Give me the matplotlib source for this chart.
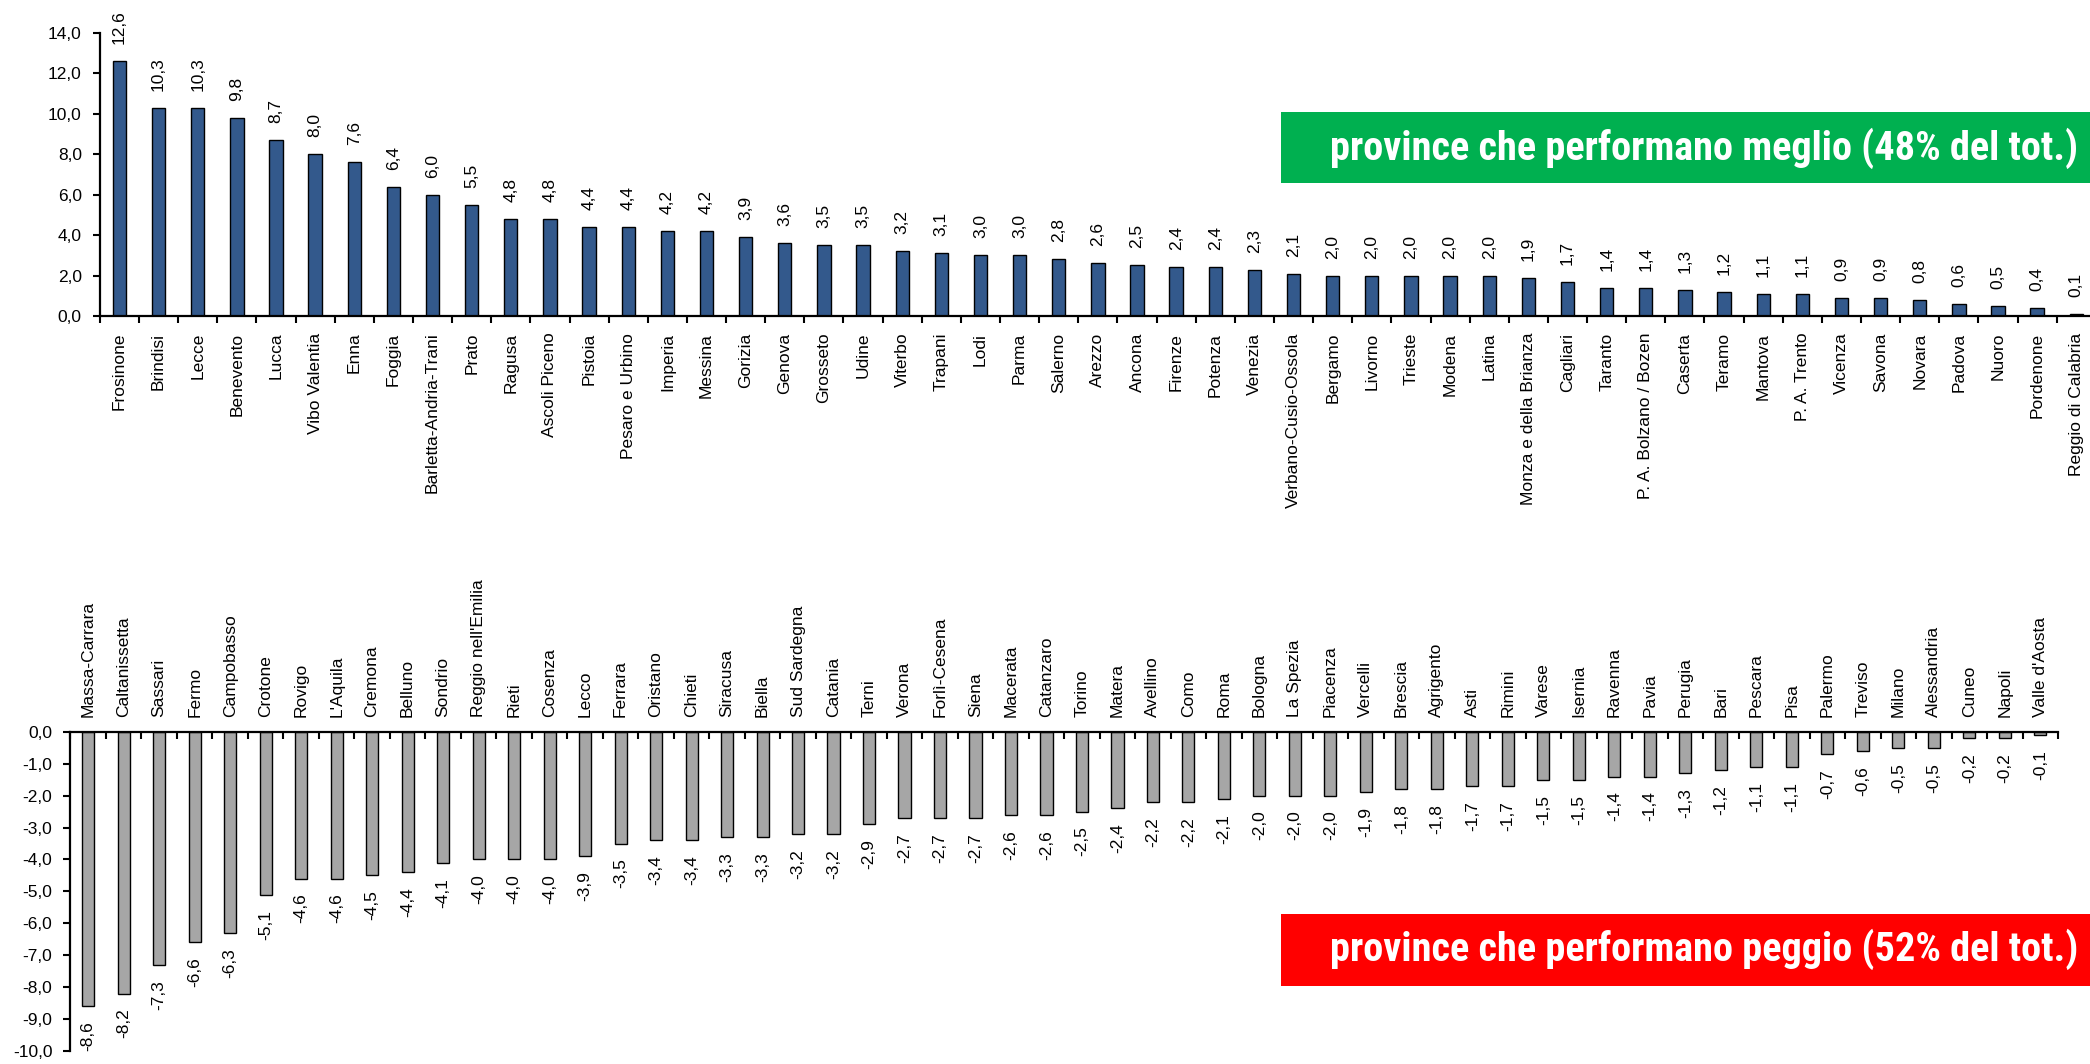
import numpy as np
import matplotlib
matplotlib.use("Agg")
import matplotlib.pyplot as plt
from matplotlib.ticker import FuncFormatter
from matplotlib.patches import Rectangle

# province migliori
top_names = ["Frosinone", "Brindisi", "Lecce", "Benevento", "Lucca", "Vibo Valentia", "Enna",
             "Foggia", "Barletta-Andria-Trani", "Prato", "Ragusa", "Ascoli Piceno", "Pistoia",
             "Pesaro e Urbino", "Imperia", "Messina", "Gorizia", "Genova", "Grosseto", "Udine",
             "Viterbo", "Trapani", "Lodi", "Parma", "Salerno", "Arezzo", "Ancona", "Firenze",
             "Potenza", "Venezia", "Verbano-Cusio-Ossola", "Bergamo", "Livorno", "Trieste",
             "Modena", "Latina", "Monza e della Brianza", "Cagliari", "Taranto",
             "P. A. Bolzano / Bozen", "Caserta", "Teramo", "Mantova", "P. A. Trento", "Vicenza",
             "Savona", "Novara", "Padova", "Nuoro", "Pordenone", "Reggio di Calabria"]
top_values = [12.6, 10.3, 10.3, 9.8, 8.7, 8.0, 7.6, 6.4, 6.0, 5.5, 4.8, 4.8, 4.4, 4.4, 4.2, 4.2,
              3.9, 3.6, 3.5, 3.5, 3.2, 3.1, 3.0, 3.0, 2.8, 2.6, 2.5, 2.4, 2.4, 2.3, 2.1, 2.0, 2.0,
              2.0, 2.0, 2.0, 1.9, 1.7, 1.4, 1.4, 1.3, 1.2, 1.1, 1.1, 0.9, 0.9, 0.8, 0.6, 0.5, 0.4,
              0.1]

# province peggiori
bottom_names = ["Massa-Carrara", "Caltanissetta", "Sassari", "Fermo", "Campobasso", "Crotone",
                "Rovigo", "L'Aquila", "Cremona", "Belluno", "Sondrio", "Reggio nell'Emilia",
                "Rieti", "Cosenza", "Lecco", "Ferrara", "Oristano", "Chieti", "Siracusa", "Biella",
                "Sud Sardegna", "Catania", "Terni", "Verona", "Forlì-Cesena", "Siena", "Macerata",
                "Catanzaro", "Torino", "Matera", "Avellino", "Como", "Roma", "Bologna",
                "La Spezia", "Piacenza", "Vercelli", "Brescia", "Agrigento", "Asti", "Rimini",
                "Varese", "Isernia", "Ravenna", "Pavia", "Perugia", "Bari", "Pescara", "Pisa",
                "Palermo", "Treviso", "Milano", "Alessandria", "Cuneo", "Napoli", "Valle d'Aosta"]
bottom_values = [-8.6, -8.2, -7.3, -6.6, -6.3, -5.1, -4.6, -4.6, -4.5, -4.4, -4.1, -4.0, -4.0,
                 -4.0, -3.9, -3.5, -3.4, -3.4, -3.3, -3.3, -3.2, -3.2, -2.9, -2.7, -2.7, -2.7,
                 -2.6, -2.6, -2.5, -2.4, -2.2, -2.2, -2.1, -2.0, -2.0, -2.0, -1.9, -1.8, -1.8,
                 -1.7, -1.7, -1.5, -1.5, -1.4, -1.4, -1.3, -1.2, -1.1, -1.1, -0.7, -0.6, -0.5,
                 -0.5, -0.2, -0.2, -0.1]

top_title = "province che performano meglio (48% del tot.)"
bottom_title = "province che performano peggio (52% del tot.)"

plt.rcParams['font.family'] = ['Liberation Sans', 'DejaVu Sans']
narrow = ['Roboto Condensed', 'Liberation Sans', 'DejaVu Sans']
FS = 12.5


def fmt(v):
    return f"{v:.1f}".replace('.', ',')


def style_axis(ax, names, x):
    ax.set_xlim(-0.5, len(names) - 0.5)
    ax.set_xticks(x)
    ax.set_xticklabels(names, rotation=90, fontsize=FS)
    ax.set_xticks(np.arange(len(names) + 1) - 0.5, minor=True)
    ax.yaxis.set_major_formatter(FuncFormatter(lambda v, p: fmt(v)))
    ax.tick_params(axis='y', length=5, width=1.5, pad=8, labelsize=FS)
    ax.spines['right'].set_visible(False)


fig = plt.figure(figsize=(20.9, 10.64), dpi=100)

# grafico in alto
ax1 = fig.add_axes([0.0478, 0.703, 0.955, 0.266])
x1 = np.arange(len(top_names))
ax1.bar(x1, top_values, width=0.34, color='#33598C', edgecolor='black', linewidth=1.0)
ax1.set_ylim(0, 14)
ax1.set_yticks(np.arange(0, 15, 2))
style_axis(ax1, top_names, x1)
ax1.tick_params(axis='x', which='major', length=0, pad=12)
ax1.tick_params(axis='x', which='minor', length=5, width=1.5, direction='out')
ax1.spines['top'].set_visible(False)
for s in ['left', 'bottom']:
    ax1.spines[s].set_linewidth(1.6)
for xi, v in zip(x1, top_values):
    ax1.annotate(fmt(v), (xi, v), xytext=(0, 17), textcoords='offset pixels', rotation=90,
                 ha='center', va='bottom', fontsize=FS, annotation_clip=False)

# grafico in basso
ax2 = fig.add_axes([0.0337, 0.0122, 0.951, 0.300])
x2 = np.arange(len(bottom_names))
ax2.bar(x2, bottom_values, width=0.34, color='#A6A6A6', edgecolor='black', linewidth=1.0)
ax2.set_ylim(-10, 0)
ax2.set_yticks(np.arange(-10, 1, 1))
ax2.xaxis.tick_top()
style_axis(ax2, bottom_names, x2)
ax2.tick_params(axis='x', which='major', length=0, pad=11, top=True, bottom=False)
ax2.tick_params(axis='x', which='minor', length=5, width=1.5, direction='in', top=True, bottom=False)
ax2.spines['bottom'].set_visible(False)
for s in ['left', 'top']:
    ax2.spines[s].set_linewidth(1.6)
for xi, v in zip(x2, bottom_values):
    ax2.annotate(fmt(v), (xi, v), xytext=(0, -15), textcoords='offset pixels', rotation=90,
                 ha='center', va='top', fontsize=FS, annotation_clip=False)

# riquadri colorati
fig.patches.append(Rectangle((0.613, 0.828), 0.4, 0.0667, transform=fig.transFigure,
                             facecolor='#00B050', edgecolor='none'))
fig.patches.append(Rectangle((0.613, 0.0735), 0.4, 0.0677, transform=fig.transFigure,
                             facecolor='#FF0000', edgecolor='none'))
t1 = fig.text(0.6365, 0.861, top_title, color='white', fontsize=29, fontweight='bold',
              family=narrow, va='center', ha='left')
t2 = fig.text(0.6365, 0.1073, bottom_title, color='white', fontsize=29, fontweight='bold',
              family=narrow, va='center', ha='left')

# adatta la dimensione del testo al bordo destro
fig.canvas.draw()
r = fig.canvas.get_renderer()
for t in (t1, t2):
    bb = t.get_window_extent(r)
    avail = 2086 - bb.x0
    if bb.width > avail:
        t.set_fontsize(29 * avail / bb.width)

fig.savefig("out.png", dpi=100)
